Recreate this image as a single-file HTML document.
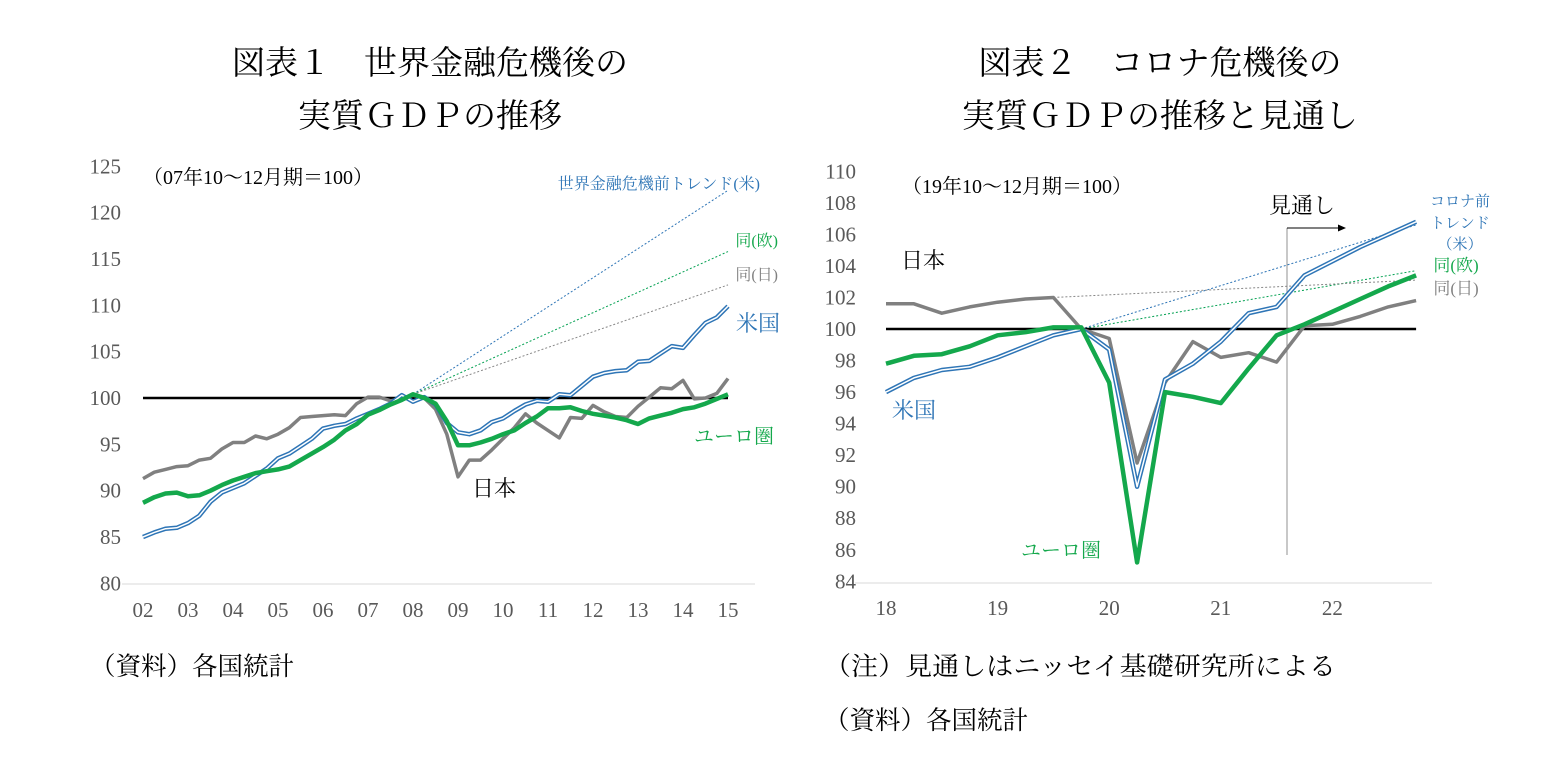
<!DOCTYPE html>
<html><head><meta charset="utf-8">
<style>
html,body{margin:0;padding:0;background:#fff;}
svg{display:block;}
.t{font-family:"Liberation Serif","Noto Serif CJK JP",serif;}
</style></head>
<body>
<svg id="s" width="1552" height="783" xmlns="http://www.w3.org/2000/svg">
<g class="t" fill="#000" font-size="33" text-anchor="middle">
<text x="430" y="74">図表１　世界金融危機後の</text>
<text x="430" y="127">実質ＧＤＰの推移</text>
<text x="1160" y="74">図表２　コロナ危機後の</text>
<text x="1160" y="127">実質ＧＤＰの推移と見通し</text>
</g>
<g class="t" font-size="25.5" fill="#000">
<text x="90" y="675">（資料）各国統計</text>
<text x="824" y="675" textLength="512" lengthAdjust="spacingAndGlyphs">（注）見通しはニッセイ基礎研究所による</text>
<text x="824" y="729">（資料）各国統計</text>
</g>
<g id="L"></g><g id="R"></g>
</svg>
<script>
var NS="http://www.w3.org/2000/svg";
function el(p,n,a,txt){var e=document.createElementNS(NS,n);for(var k in a)e.setAttribute(k,a[k]);if(txt!=null)e.textContent=txt;p.appendChild(e);return e;}
function pts(arr,fx,fy){return arr.map(function(p){return fx(p[0]).toFixed(1)+","+fy(p[1]).toFixed(1)}).join(" ");}
var L=document.getElementById("L");
var ly=function(v){return 398-(v-100)*9.27}, lx=function(t){return 143+(t-2002)*45};
el(L,"line",{x1:122,y1:584,x2:755,y2:584,stroke:"#d9d9d9","stroke-width":1});
for(var v=80;v<=125;v+=5)el(L,"text",{x:121,y:ly(v)+7,"text-anchor":"end","font-size":21,fill:"#595959","class":"t"},v);
for(var i=0;i<=13;i++){var yy=2+i;el(L,"text",{x:lx(2002+i),y:617,"text-anchor":"middle","font-size":21,fill:"#595959","class":"t"},(yy<10?"0":"")+yy);}
var us=[[2002,85],[2002.25,85.5],[2002.5,85.9],[2002.75,86],[2003,86.5],[2003.25,87.3],[2003.5,88.8],[2003.75,89.8],[2004,90.3],[2004.25,90.8],[2004.5,91.6],[2004.75,92.4],[2005,93.5],[2005.25,94],[2005.5,94.8],[2005.75,95.6],[2006,96.7],[2006.25,97],[2006.5,97.2],[2006.75,97.8],[2007,98.3],[2007.25,98.8],[2007.5,99.4],[2007.75,100.3],[2008,99.6],[2008.25,100.1],[2008.5,99.3],[2008.75,97.3],[2009,96.3],[2009.25,96.1],[2009.5,96.5],[2009.75,97.4],[2010,97.8],[2010.25,98.6],[2010.5,99.3],[2010.75,99.7],[2011,99.6],[2011.25,100.4],[2011.5,100.3],[2011.75,101.3],[2012,102.3],[2012.25,102.7],[2012.5,102.9],[2012.75,103],[2013,103.9],[2013.25,104],[2013.5,104.8],[2013.75,105.6],[2014,105.4],[2014.25,106.8],[2014.5,108.1],[2014.75,108.7],[2015,109.9]];
var jp=[[2002,91.3],[2002.25,92],[2002.5,92.3],[2002.75,92.6],[2003,92.7],[2003.25,93.3],[2003.5,93.5],[2003.75,94.5],[2004,95.2],[2004.25,95.2],[2004.5,95.9],[2004.75,95.6],[2005,96.1],[2005.25,96.8],[2005.5,97.9],[2005.75,98],[2006,98.1],[2006.25,98.2],[2006.5,98.1],[2006.75,99.4],[2007,100.1],[2007.25,100.1],[2007.5,99.7],[2007.75,99.9],[2008,100.3],[2008.25,100],[2008.5,98.8],[2008.75,96.1],[2009,91.5],[2009.25,93.3],[2009.5,93.3],[2009.75,94.4],[2010,95.6],[2010.25,96.8],[2010.5,98.3],[2010.75,97.3],[2011,96.5],[2011.25,95.7],[2011.5,97.9],[2011.75,97.8],[2012,99.2],[2012.25,98.5],[2012.5,98],[2012.75,97.9],[2013,99.1],[2013.25,100.1],[2013.5,101.1],[2013.75,101],[2014,101.9],[2014.25,99.9],[2014.5,100],[2014.75,100.5],[2015,102.1]];
var eu=[[2002,88.7],[2002.25,89.3],[2002.5,89.7],[2002.75,89.8],[2003,89.4],[2003.25,89.5],[2003.5,90],[2003.75,90.6],[2004,91.1],[2004.25,91.5],[2004.5,91.9],[2004.75,92.1],[2005,92.3],[2005.25,92.6],[2005.5,93.3],[2005.75,94],[2006,94.7],[2006.25,95.5],[2006.5,96.5],[2006.75,97.2],[2007,98.2],[2007.25,98.7],[2007.5,99.3],[2007.75,99.8],[2008,100.4],[2008.25,100],[2008.5,99.4],[2008.75,97.5],[2009,94.9],[2009.25,94.9],[2009.5,95.2],[2009.75,95.6],[2010,96.1],[2010.25,96.5],[2010.5,97.3],[2010.75,98],[2011,98.9],[2011.25,98.9],[2011.5,99],[2011.75,98.6],[2012,98.3],[2012.25,98.1],[2012.5,97.9],[2012.75,97.6],[2013,97.2],[2013.25,97.8],[2013.5,98.1],[2013.75,98.4],[2014,98.8],[2014.25,99],[2014.5,99.4],[2014.75,99.9],[2015,100.4]];
el(L,"line",{x1:lx(2008),y1:ly(100.4),x2:728,y2:ly(122.4),stroke:"#2e75b6","stroke-width":1,"stroke-dasharray":"2,2"});
el(L,"line",{x1:lx(2008),y1:ly(100.4),x2:728,y2:ly(115.8),stroke:"#00a050","stroke-width":1,"stroke-dasharray":"2,2"});
el(L,"line",{x1:lx(2008),y1:ly(100.4),x2:728,y2:ly(112.2),stroke:"#888","stroke-width":1,"stroke-dasharray":"2,2"});
el(L,"line",{x1:143,y1:398,x2:728,y2:398,stroke:"#000","stroke-width":2.5});
el(L,"polyline",{points:pts(jp,lx,ly),fill:"none",stroke:"#808080","stroke-width":3.5,"stroke-linejoin":"round"});
el(L,"polyline",{points:pts(us,lx,ly),fill:"none",stroke:"#2e75b6","stroke-width":4.5,"stroke-linejoin":"round"});
el(L,"polyline",{points:pts(us,lx,ly),fill:"none",stroke:"#fff","stroke-width":1.5,"stroke-linejoin":"round"});
el(L,"polyline",{points:pts(eu,lx,ly),fill:"none",stroke:"#14a84c","stroke-width":4.5,"stroke-linejoin":"round"});
var g=el(L,"g",{"class":"t"});
el(g,"text",{x:143,y:184,"font-size":20,fill:"#000"},"（07年10～12月期＝100）");
el(g,"text",{x:760,y:189,"font-size":16,fill:"#2e75b6","text-anchor":"end"},"世界金融危機前トレンド(米)");
el(g,"text",{x:778,y:246,"font-size":16,fill:"#14a84c","text-anchor":"end"},"同(欧)");
el(g,"text",{x:778,y:280,"font-size":16,fill:"#808080","text-anchor":"end"},"同(日)");
el(g,"text",{x:736,y:331,"font-size":22,fill:"#2e75b6"},"米国");
el(g,"text",{x:694,y:443,"font-size":20,fill:"#14a84c"},"ユーロ圏");
el(g,"text",{x:472,y:496,"font-size":22,fill:"#000"},"日本");
var R=document.getElementById("R");
var ry=function(v){return 329-(v-100)*15.77}, rx=function(i){return 886+i*27.9};
el(R,"line",{x1:855,y1:583,x2:1432,y2:583,stroke:"#d9d9d9","stroke-width":1});
for(var v=84;v<=110;v+=2)el(R,"text",{x:856,y:ry(v)+7,"text-anchor":"end","font-size":21,fill:"#595959","class":"t"},v);
["18","19","20","21","22"].forEach(function(s,k){el(R,"text",{x:rx(k*4),y:615,"text-anchor":"middle","font-size":21,fill:"#595959","class":"t"},s);});
function idx(a){return a.map(function(v,i){return [i,v]});}
var rj=idx([101.6,101.6,101,101.4,101.7,101.9,102,100,99.4,91.5,96.6,99.2,98.2,98.5,97.9,100.2,100.3,100.8,101.4,101.8]);
var ru=idx([96,96.9,97.4,97.6,98.2,98.9,99.6,100,98.7,90,96.8,97.8,99.2,101,101.4,103.4,104.3,105.2,106,106.8]);
var re=idx([97.8,98.3,98.4,98.9,99.6,99.8,100.1,100.1,96.6,85.2,96,95.7,95.3,97.5,99.6,100.3,101.1,101.9,102.7,103.4]);
el(R,"line",{x1:rx(7),y1:ry(100),x2:rx(19),y2:ry(106.6),stroke:"#2e75b6","stroke-width":1,"stroke-dasharray":"2,2"});
el(R,"line",{x1:rx(7),y1:ry(100),x2:rx(19),y2:ry(103.7),stroke:"#00a050","stroke-width":1,"stroke-dasharray":"2,2"});
el(R,"line",{x1:rx(6),y1:ry(102),x2:rx(19),y2:ry(103.1),stroke:"#888","stroke-width":1,"stroke-dasharray":"2,2"});
el(R,"line",{x1:886,y1:329,x2:rx(19),y2:329,stroke:"#000","stroke-width":2.5});
el(R,"line",{x1:1287,y1:228,x2:1287,y2:555,stroke:"#777","stroke-width":0.8});
el(R,"line",{x1:1287,y1:228,x2:1340,y2:228,stroke:"#000","stroke-width":1});
el(R,"polygon",{points:"1346,228 1338,224.5 1338,231.5",fill:"#000"});
el(R,"polyline",{points:pts(rj,rx,ry),fill:"none",stroke:"#808080","stroke-width":3.5,"stroke-linejoin":"round"});
el(R,"polyline",{points:pts(ru,rx,ry),fill:"none",stroke:"#2e75b6","stroke-width":4.5,"stroke-linejoin":"round"});
el(R,"polyline",{points:pts(ru,rx,ry),fill:"none",stroke:"#fff","stroke-width":1.5,"stroke-linejoin":"round"});
el(R,"polyline",{points:pts(re,rx,ry),fill:"none",stroke:"#14a84c","stroke-width":4.5,"stroke-linejoin":"round"});
var h=el(R,"g",{"class":"t"});
el(h,"text",{x:902,y:193,"font-size":20,fill:"#000"},"（19年10～12月期＝100）");
el(h,"text",{x:1269,y:213,"font-size":22,fill:"#000"},"見通し");
el(h,"text",{x:1460,y:206,"font-size":15,fill:"#2e75b6","text-anchor":"middle"},"コロナ前");
el(h,"text",{x:1460,y:228,"font-size":15,fill:"#2e75b6","text-anchor":"middle"},"トレンド");
el(h,"text",{x:1460,y:249,"font-size":15,fill:"#2e75b6","text-anchor":"middle"},"（米）");
el(h,"text",{x:1456,y:271,"font-size":17,fill:"#14a84c","text-anchor":"middle"},"同(欧)");
el(h,"text",{x:1456,y:294,"font-size":17,fill:"#808080","text-anchor":"middle"},"同(日)");
el(h,"text",{x:901,y:268,"font-size":22,fill:"#000"},"日本");
el(h,"text",{x:892,y:418,"font-size":22,fill:"#2e75b6"},"米国");
el(h,"text",{x:1021,y:557,"font-size":20,fill:"#14a84c"},"ユーロ圏");
</script>
</body></html>
